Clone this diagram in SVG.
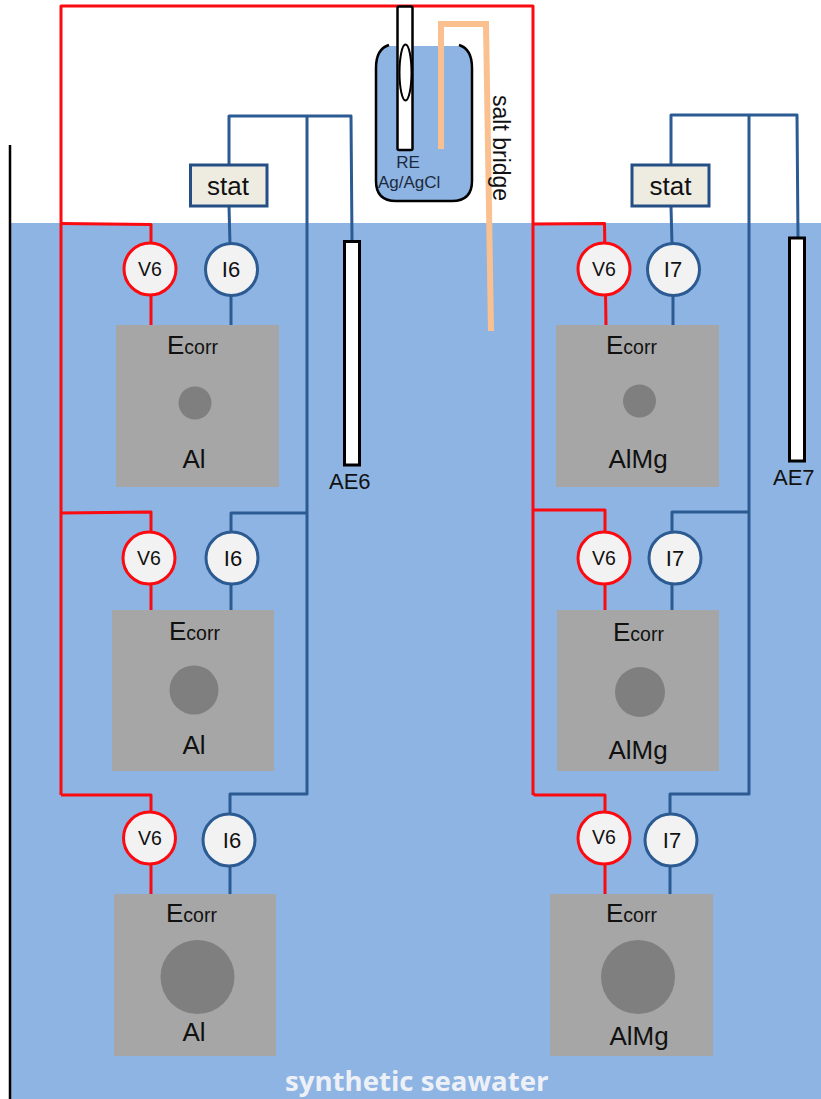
<svg xmlns="http://www.w3.org/2000/svg" width="821" height="1099" viewBox="0 0 821 1099">
<style>
text{font-family:"Liberation Sans",Arial,sans-serif;fill:#111}
.r,.b{fill:none;stroke-width:3;stroke-linejoin:round}
.r{stroke:#fb0a10}.b{stroke:#2b5b92}
.vc,.ic{fill:#f2f2f2;stroke-width:3}
.vc{stroke:#fb0a10}.ic{stroke:#2b5b92}
.lab{font-size:19.500px;text-anchor:middle}
.lab2{font-size:22px;text-anchor:middle}
.plate{fill:#a6a6a6}.hole{fill:#7f7f7f}
.e{font-size:26px}.e tspan{font-size:19.500px}
.m{font-size:26px;text-anchor:middle}
.stat{fill:#eeece1;stroke:#254f84;stroke-width:3}
.st{font-size:26px;text-anchor:middle}
.ae{fill:#fff;stroke:#000;stroke-width:3}
.aet{font-size:22px}
</style>
<rect id="water" x="11" y="223" width="810" height="876" fill="#8eb4e3"/>
<path id="tank-wall" d="M10 145V1099" stroke="#000" stroke-width="2.500" fill="none"/>
<g id="connectors">
<path class="r" d="M61 795V6H533V795"/>
<path class="r" d="M61 223.500L151 224.500V325M61 513L151 512V610M61 795H151V894"/>
<path class="r" d="M533 224L604.500 223.500L606 325M533 510H605V610M533 793.500L535 795H605V894"/>
<path class="b" d="M229 206V165M229 165V116H351L352 241M229 206L230 245M231 295V325M307 116V794H230V894M306 513H231V610"/>
<path class="b" d="M671 206V115H797L798 238M671 206L672 245M673 295V325M749 115V794H670V894M749 512H672V610"/>
</g>
<g id="beaker">
<path d="M389 46H459Q472 50 472 68V181Q472 201 452 201H396Q376 201 376 181V68Q376 50 389 46Z" fill="#8eb4e3"/>
<path d="M389 45Q376 49 376 68V181Q376 201 396 201H452Q472 201 472 181V68Q472 49 459 45" fill="none" stroke="#000" stroke-width="2.500"/>
<path id="salt-bridge-tube" d="M441 149V24H486L491 331" fill="none" stroke="#fac090" stroke-width="6"/>
<rect x="397.500" y="6.500" width="15" height="143.500" rx="1.500" fill="#fff" stroke="#000" stroke-width="2.500"/>
<ellipse cx="405.500" cy="72.500" rx="6" ry="28" fill="#fff" stroke="#000" stroke-width="2"/>
<text x="408" y="168" font-size="17" text-anchor="middle" style="fill:#1b2a3d">RE</text>
<text x="378" y="188" font-size="17" style="fill:#1b2a3d">Ag/AgCl</text>
<text transform="translate(493 95) rotate(90)" font-size="23">salt bridge</text>
</g>
<g id="stat-left"><rect class="stat" x="190.500" y="165" width="76.500" height="41"/><text class="st" x="228" y="195">stat</text></g>
<g id="stat-right"><rect class="stat" x="632" y="165" width="77" height="41"/><text class="st" x="670.500" y="195">stat</text></g>
<g id="ae6"><rect class="ae" x="344.500" y="241.500" width="15" height="223.500"/><text class="aet" x="329" y="489">AE6</text></g>
<g id="ae7"><rect class="ae" x="789.500" y="238" width="15" height="223"/><text class="aet" x="773" y="485">AE7</text></g>
<g id="v6-l1"><circle class="vc" cx="150" cy="269" r="26"/><text class="lab" x="150" y="276">V6</text></g>
<g id="i6-l1"><circle class="ic" cx="231.500" cy="269.500" r="26"/><text class="lab2" x="231" y="277">I6</text></g>
<g id="plate-l1"><rect class="plate" x="116" y="325" width="163" height="162"/><circle class="hole" cx="195" cy="403" r="16.500"/><text class="e" x="167" y="354">E<tspan>corr</tspan></text><text class="m" x="194" y="468">Al</text></g>
<g id="v6-l2"><circle class="vc" cx="149" cy="558" r="26"/><text class="lab" x="149" y="565">V6</text></g>
<g id="i6-l2"><circle class="ic" cx="232" cy="558" r="26"/><text class="lab2" x="233" y="566">I6</text></g>
<g id="plate-l2"><rect class="plate" x="112" y="610" width="162" height="161"/><circle class="hole" cx="194" cy="690" r="24.500"/><text class="e" x="169" y="640">E<tspan>corr</tspan></text><text class="m" x="194" y="754">Al</text></g>
<g id="v6-l3"><circle class="vc" cx="149.500" cy="838" r="26"/><text class="lab" x="150" y="845">V6</text></g>
<g id="i6-l3"><circle class="ic" cx="229" cy="840" r="26"/><text class="lab2" x="232" y="848">I6</text></g>
<g id="plate-l3"><rect class="plate" x="114" y="894" width="162" height="162"/><circle class="hole" cx="197.500" cy="977" r="37"/><text class="e" x="166" y="922">E<tspan>corr</tspan></text><text class="m" x="194" y="1041">Al</text></g>
<g id="v6-r1"><circle class="vc" cx="604" cy="269" r="26"/><text class="lab" x="604" y="276">V6</text></g>
<g id="i7-r1"><circle class="ic" cx="673.500" cy="269.500" r="26"/><text class="lab2" x="673" y="277">I7</text></g>
<g id="plate-r1"><rect class="plate" x="556" y="325" width="163" height="162"/><circle class="hole" cx="639.500" cy="401" r="16.500"/><text class="e" x="606" y="354">E<tspan>corr</tspan></text><text class="m" x="638" y="468">AlMg</text></g>
<g id="v6-r2"><circle class="vc" cx="604" cy="558" r="26"/><text class="lab" x="604" y="565">V6</text></g>
<g id="i7-r2"><circle class="ic" cx="675" cy="558" r="26"/><text class="lab2" x="675" y="566">I7</text></g>
<g id="plate-r2"><rect class="plate" x="557" y="610" width="162" height="161"/><circle class="hole" cx="640" cy="692" r="25"/><text class="e" x="613" y="641">E<tspan>corr</tspan></text><text class="m" x="638" y="759">AlMg</text></g>
<g id="v6-r3"><circle class="vc" cx="604" cy="838" r="26"/><text class="lab" x="604" y="844">V6</text></g>
<g id="i7-r3"><circle class="ic" cx="671" cy="840" r="26"/><text class="lab2" x="672" y="848">I7</text></g>
<g id="plate-r3"><rect class="plate" x="550" y="894" width="163" height="162"/><circle class="hole" cx="638" cy="977" r="37"/><text class="e" x="606" y="922">E<tspan>corr</tspan></text><text class="m" x="639" y="1045">AlMg</text></g>
<text id="seawater" x="285" y="1091" font-size="27.600" font-weight="700" style="font-family:'Open Sans','Noto Sans',sans-serif;fill:#edf1f7">synthetic seawater</text>
</svg>
